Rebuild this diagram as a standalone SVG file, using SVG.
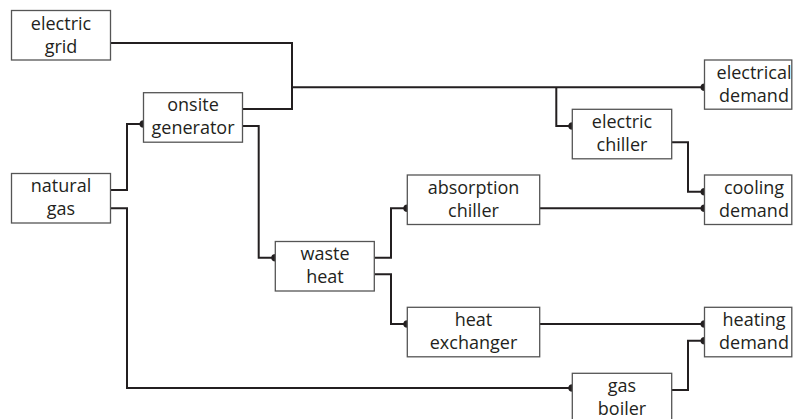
<svg xmlns="http://www.w3.org/2000/svg" width="793" height="419" viewBox="0 0 793 419">
<defs>
<style>
.box{fill:#fff;stroke:#555;stroke-width:1.3}
.lbl{font-family:"Open Sans","Noto Sans",sans-serif;font-size:18px;fill:#231f20;text-anchor:middle}
.conn{fill:none;stroke:#231f20;stroke-width:2;stroke-linejoin:miter}
</style>
<marker id="dot" markerUnits="userSpaceOnUse" markerWidth="10" markerHeight="10" viewBox="-5 -5 10 10" refX="0" refY="0" orient="auto">
<path d="M0,-3.8 A4,3.8 0 0 0 0,3.8 Z" fill="#231f20"/>
</marker>
</defs>
<rect width="793" height="419" fill="#fff"/>
<g id="connectors">
<path class="conn" d="M110.5,43 H292 V87.3 H704.5" marker-end="url(#dot)"/>
<path class="conn" d="M242.5,109 H292 V87.3"/>
<path class="conn" d="M556.3,87.3 V126 H572.3" marker-end="url(#dot)"/>
<path class="conn" d="M110.5,190 H127 V124 H143.5" marker-end="url(#dot)"/>
<path class="conn" d="M110.5,208.3 H127 V388 H572.3" marker-end="url(#dot)"/>
<path class="conn" d="M242.5,126 H258.7 V257.7 H275.3" marker-end="url(#dot)"/>
<path class="conn" d="M374.7,257.7 H391 V208.3 H407.3" marker-end="url(#dot)"/>
<path class="conn" d="M374.7,274.3 H391 V324 H407.3" marker-end="url(#dot)"/>
<path class="conn" d="M671.7,142.3 H688 V191.7 H704.5" marker-end="url(#dot)"/>
<path class="conn" d="M539.7,208.3 H704.5" marker-end="url(#dot)"/>
<path class="conn" d="M539.7,324 H704.5" marker-end="url(#dot)"/>
<path class="conn" d="M671.7,390 H688 V340.7 H704.5" marker-end="url(#dot)"/>
</g>
<g id="electric-grid"><rect class="box" x="11.5" y="10.5" width="99" height="49.5"/><text class="lbl" x="61" y="29.5">electric</text><text class="lbl" x="61" y="52.5">grid</text></g>
<g id="onsite-generator"><rect class="box" x="143.5" y="92.7" width="99" height="49.5"/><text class="lbl" x="193" y="111.2">onsite</text><text class="lbl" x="193" y="134.2">generator</text></g>
<g id="natural-gas"><rect class="box" x="11.5" y="173.5" width="99" height="49.5"/><text class="lbl" x="61" y="192">natural</text><text class="lbl" x="61" y="215">gas</text></g>
<g id="waste-heat"><rect class="box" x="275.3" y="241.5" width="99" height="49.5"/><text class="lbl" x="325" y="260">waste</text><text class="lbl" x="325" y="283">heat</text></g>
<g id="absorption-chiller"><rect class="box" x="407.3" y="175" width="132.4" height="49.5"/><text class="lbl" x="473.5" y="193.5">absorption</text><text class="lbl" x="473.5" y="216.5">chiller</text></g>
<g id="heat-exchanger"><rect class="box" x="407.3" y="307.3" width="132.4" height="49.5"/><text class="lbl" x="473.5" y="325.8">heat</text><text class="lbl" x="473.5" y="348.8">exchanger</text></g>
<g id="electric-chiller"><rect class="box" x="572.3" y="109.3" width="99.4" height="49.5"/><text class="lbl" x="622" y="127.8">electric</text><text class="lbl" x="622" y="150.8">chiller</text></g>
<g id="gas-boiler"><rect class="box" x="572.3" y="373.3" width="99.4" height="49.5"/><text class="lbl" x="622" y="391.8">gas</text><text class="lbl" x="622" y="414.8">boiler</text></g>
<g id="electrical-demand"><rect class="box" x="704.5" y="60" width="87.3" height="49.2"/><text class="lbl" x="754" y="78.5">electrical</text><text class="lbl" x="754" y="101.5">demand</text></g>
<g id="cooling-demand"><rect class="box" x="704.5" y="175" width="87.3" height="49.5"/><text class="lbl" x="754" y="193.5">cooling</text><text class="lbl" x="754" y="216.5">demand</text></g>
<g id="heating-demand"><rect class="box" x="704.5" y="307.3" width="87.3" height="49.5"/><text class="lbl" x="754" y="325.8">heating</text><text class="lbl" x="754" y="348.8">demand</text></g>
</svg>
